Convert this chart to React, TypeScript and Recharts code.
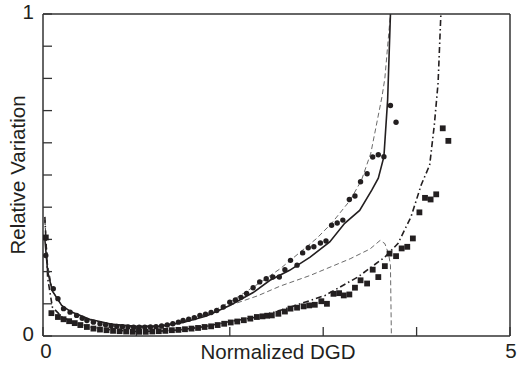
import { ComposedChart, Line, Scatter, XAxis, YAxis } from "recharts";

const xTicks = [0, 1, 2, 3, 4, 5];
const yTicks = [0, 0.1, 0.2, 0.3, 0.4, 0.5, 0.6, 0.7, 0.8, 0.9, 1];

// measured points, [normalized DGD, relative variation]
const circles: [number, number][] = [
  [0.03, 0.25], [0.11, 0.147], [0.16, 0.116], [0.22, 0.085], [0.29, 0.074],
  [0.36, 0.064], [0.42, 0.055], [0.47, 0.048], [0.54, 0.043], [0.61, 0.038],
  [0.67, 0.035], [0.73, 0.032], [0.79, 0.03], [0.85, 0.029], [0.91, 0.028],
  [0.97, 0.027], [1.03, 0.027], [1.09, 0.027], [1.15, 0.028], [1.21, 0.029],
  [1.27, 0.031], [1.33, 0.034], [1.39, 0.038], [1.45, 0.043], [1.5, 0.048],
  [1.56, 0.052], [1.62, 0.057], [1.68, 0.064], [1.74, 0.068], [1.8, 0.073],
  [1.86, 0.079], [1.93, 0.09], [2.0, 0.105], [2.06, 0.112], [2.12, 0.12],
  [2.18, 0.132], [2.25, 0.15], [2.32, 0.168], [2.39, 0.178], [2.46, 0.183],
  [2.53, 0.183], [2.59, 0.206], [2.65, 0.235], [2.72, 0.22], [2.78, 0.258],
  [2.84, 0.274], [2.9, 0.277], [2.97, 0.289], [3.03, 0.295], [3.09, 0.344],
  [3.15, 0.351], [3.21, 0.36], [3.28, 0.424], [3.34, 0.435], [3.4, 0.479],
  [3.47, 0.504], [3.53, 0.556], [3.59, 0.563], [3.65, 0.557], [3.72, 0.716],
  [3.78, 0.664],
];

const squares: [number, number][] = [
  [0.03, 0.306], [0.09, 0.071], [0.16, 0.059], [0.22, 0.052], [0.28, 0.046],
  [0.34, 0.04], [0.4, 0.034], [0.47, 0.028], [0.54, 0.023], [0.61, 0.02],
  [0.68, 0.018], [0.75, 0.016], [0.82, 0.015], [0.89, 0.014], [0.96, 0.013],
  [1.03, 0.013], [1.1, 0.013], [1.17, 0.014], [1.24, 0.015], [1.31, 0.016],
  [1.38, 0.018], [1.45, 0.019], [1.52, 0.021], [1.59, 0.023], [1.66, 0.025],
  [1.73, 0.028], [1.8, 0.03], [1.87, 0.034], [1.94, 0.038], [2.01, 0.042],
  [2.08, 0.045], [2.15, 0.049], [2.22, 0.054], [2.29, 0.059], [2.35, 0.061],
  [2.4, 0.063], [2.45, 0.064], [2.52, 0.069], [2.59, 0.076], [2.65, 0.085],
  [2.72, 0.088], [2.79, 0.092], [2.85, 0.095], [2.91, 0.097], [2.98, 0.108],
  [3.04, 0.1], [3.11, 0.131], [3.17, 0.133], [3.22, 0.126], [3.28, 0.129],
  [3.34, 0.15], [3.4, 0.173], [3.47, 0.163], [3.53, 0.206], [3.59, 0.183],
  [3.66, 0.217], [3.71, 0.256], [3.78, 0.248], [3.84, 0.272], [3.9, 0.277],
  [3.96, 0.303], [4.03, 0.384], [4.09, 0.429], [4.15, 0.424], [4.21, 0.44],
  [4.28, 0.645], [4.34, 0.606],
];

// theory curves
const solidTheory: [number, number][] = [
  [0.02, 0.3], [0.05, 0.2], [0.1, 0.14], [0.2, 0.095], [0.3, 0.075],
  [0.5, 0.052], [0.75, 0.036], [1.0, 0.03], [1.25, 0.03], [1.5, 0.042],
  [1.75, 0.062], [2.0, 0.095], [2.25, 0.135], [2.43, 0.173], [2.64, 0.204],
  [2.86, 0.245], [3.07, 0.292], [3.23, 0.35], [3.39, 0.39], [3.52, 0.453],
  [3.59, 0.49], [3.65, 0.557], [3.69, 0.734], [3.72, 1.0],
];

const dashedUpper: [number, number][] = [
  [0.02, 0.36], [0.05, 0.22], [0.1, 0.14], [0.2, 0.095], [0.3, 0.074],
  [0.5, 0.05], [0.75, 0.035], [1.0, 0.03], [1.25, 0.031], [1.5, 0.045],
  [1.75, 0.068], [2.0, 0.105], [2.32, 0.165], [2.54, 0.209], [2.93, 0.303],
  [3.09, 0.35], [3.29, 0.422], [3.41, 0.484], [3.51, 0.568], [3.63, 0.744],
  [3.66, 0.8], [3.72, 1.0],
];

const dashedLower: [number, number][] = [
  [0.02, 0.36], [0.05, 0.22], [0.1, 0.14], [0.2, 0.095], [0.3, 0.074],
  [0.5, 0.05], [0.75, 0.035], [1.0, 0.03], [1.25, 0.031], [1.5, 0.045],
  [1.75, 0.066], [1.97, 0.092], [2.3, 0.125], [2.54, 0.155], [2.86, 0.188],
  [3.29, 0.24], [3.5, 0.27], [3.61, 0.297], [3.66, 0.287], [3.7, 0.255],
  [3.72, 0.22], [3.73, 0.0],
];

const dashDotTheory: [number, number][] = [
  [0.02, 0.37], [0.05, 0.18], [0.1, 0.09], [0.2, 0.06], [0.3, 0.045],
  [0.5, 0.028], [0.75, 0.018], [1.0, 0.014], [1.25, 0.015], [1.5, 0.02],
  [1.75, 0.03], [2.0, 0.045], [2.3, 0.059], [2.6, 0.085], [3.02, 0.126],
  [3.37, 0.183], [3.66, 0.245], [3.8, 0.287], [3.94, 0.37], [4.05, 0.47],
  [4.14, 0.531], [4.19, 0.656], [4.23, 0.786], [4.26, 1.0],
];

const toRows = (pts: [number, number][]) => pts.map(([x, y]) => ({ x, y }));

const INK = "#231f20";
const FONT = "'Liberation Sans', Arial, sans-serif";

function Dot(props: any) {
  const { cx, cy } = props;
  if (cx == null || cy == null) return <g />;
  return <circle cx={cx} cy={cy} r={2.7} fill={INK} />;
}

function Square(props: any) {
  const { cx, cy } = props;
  if (cx == null || cy == null) return <g />;
  return <rect x={cx - 2.9} y={cy - 2.9} width={5.8} height={5.8} fill={INK} />;
}

// tick marks only, labels are placed separately
const noLabel = () => <g />;

const axisLine = { stroke: "#333", strokeWidth: 1.5 };
const tickLine = { stroke: "#333", strokeWidth: 1.3 };

const textStyle = {
  position: "absolute" as const, fontFamily: FONT, fontSize: 20.5, color: INK,
  whiteSpace: "nowrap" as const, lineHeight: "24px",
};

export default function App() {
  return (
    <div style={{ position: "absolute", left: 0, top: 0, width: 517, height: 369, background: "#fff" }}>
      <ComposedChart width={517} height={369} margin={{ top: 14, right: 7, bottom: 33, left: 43 }}>
        <XAxis
          type="number" dataKey="x" domain={[0, 5]} ticks={xTicks} allowDataOverflow mirror
          height={9} axisLine={axisLine} tickLine={tickLine} tickSize={9} tick={noLabel}
        />
        <XAxis
          xAxisId="top" orientation="top" type="number" domain={[0, 5]} ticks={xTicks} mirror
          height={9} axisLine={axisLine} tickLine={tickLine} tickSize={9} tick={noLabel}
        />
        <YAxis
          type="number" domain={[0, 1]} ticks={yTicks} allowDataOverflow mirror
          width={9} axisLine={axisLine} tickLine={tickLine} tickSize={9} tick={noLabel}
        />
        <YAxis
          yAxisId="right" orientation="right" type="number" domain={[0, 1]} ticks={yTicks} mirror
          width={9} axisLine={axisLine} tickLine={tickLine} tickSize={9} tick={noLabel}
        />
        <Line data={toRows(dashedUpper)} dataKey="y" type="linear" dot={false} stroke="#444"
          strokeWidth={0.8} strokeDasharray="5 3" isAnimationActive={false} />
        <Line data={toRows(dashedLower)} dataKey="y" type="linear" dot={false} stroke="#444"
          strokeWidth={0.8} strokeDasharray="5 3" isAnimationActive={false} />
        <Line data={toRows(solidTheory)} dataKey="y" type="linear" dot={false} stroke={INK}
          strokeWidth={1.6} isAnimationActive={false} />
        <Line data={toRows(dashDotTheory)} dataKey="y" type="linear" dot={false} stroke={INK}
          strokeWidth={1.6} strokeDasharray="6 3 1.5 3" isAnimationActive={false} />
        <Scatter data={toRows(circles)} dataKey="y" shape={<Dot />} isAnimationActive={false} />
        <Scatter data={toRows(squares)} dataKey="y" shape={<Square />} isAnimationActive={false} />
      </ComposedChart>
      <div style={{ ...textStyle, left: 14, top: 0, width: 20, textAlign: "right" }}>1</div>
      <div style={{ ...textStyle, left: 14, top: 322, width: 20, textAlign: "right" }}>0</div>
      <div style={{ ...textStyle, left: 36, top: 339, width: 20, textAlign: "center" }}>0</div>
      <div style={{ ...textStyle, left: 501, top: 339, width: 20, textAlign: "center" }}>5</div>
      <div style={{ ...textStyle, left: 200, top: 340, width: 156, textAlign: "center" }}>Normalized DGD</div>
      <div style={{ ...textStyle, left: 18, top: 175, transform: "translate(-50%, -50%) rotate(-90deg)" }}>
        Relative Variation
      </div>
    </div>
  );
}
